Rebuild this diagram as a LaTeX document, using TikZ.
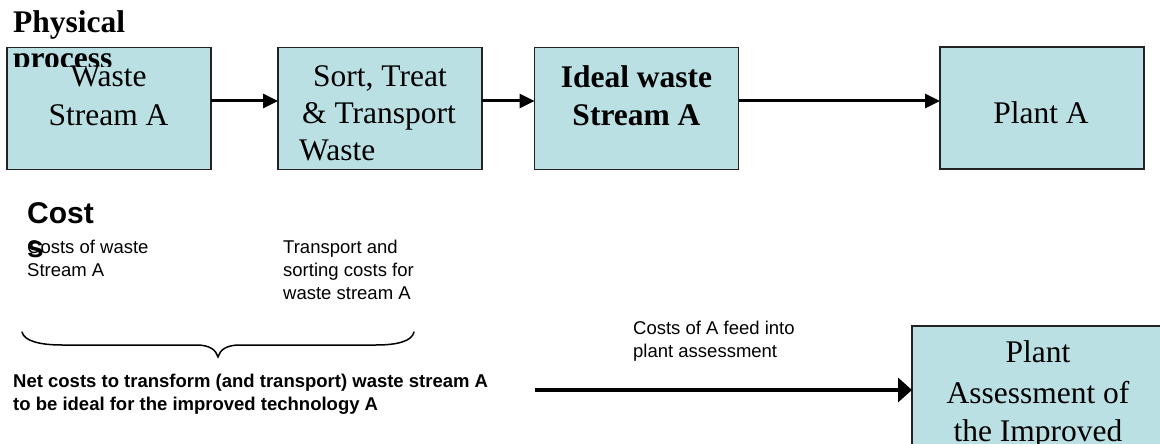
\documentclass[tikz,border=0pt]{standalone}
\usepackage{fontspec}
\setmainfont{Liberation Serif}
\setsansfont{Liberation Sans}
\usetikzlibrary{arrows.meta}
\definecolor{boxfill}{RGB}{186,224,228}
\definecolor{boxline}{RGB}{34,34,34}
\tikzset{
  procbox/.style={draw=boxline, fill=boxfill, line width=1.5pt, inner sep=0pt, outer sep=0pt,
                  minimum width=204pt, minimum height=122pt},
  boxtxt/.style={inner sep=0pt, anchor=base, font=\fontsize{31.5}{38}\selectfont},
  boxbold/.style={boxtxt, font=\fontsize{31.5}{38}\selectfont\bfseries},
  headtxt/.style={inner sep=0pt, anchor=base west, font=\fontsize{31.5}{36}\selectfont\bfseries},
  costhead/.style={inner sep=0pt, anchor=base west, font=\fontsize{30}{34}\selectfont\sffamily\bfseries},
  note/.style={inner sep=0pt, anchor=base west, font=\fontsize{18.5}{23}\selectfont\sffamily},
  notebold/.style={note, font=\fontsize{18.5}{23}\selectfont\sffamily\bfseries},
  flow/.style={line width=3pt, -{Triangle[length=15pt,width=14pt]}},
  feed/.style={line width=4.5pt, -{Triangle[length=14pt,width=24pt]}},
  bracepath/.style={line width=1.5pt, line cap=round}
}
\begin{document}
\begin{tikzpicture}[x=1pt, y=-1pt]
\useasboundingbox (0,0) rectangle (1160,444);
\clip (0,0) rectangle (1160,444);

% process chain boxes
\node[procbox] (b1) at (109,108.5) {};
\node[procbox] (b2) at (380,108.5) {};
\node[procbox] (b3) at (636.5,108.5) {};
\node[procbox] (b4) at (1042,108) {};
\node[procbox, minimum width=258pt, minimum height=150pt] (b5) at (1041,401) {};

% box texts
\node[boxtxt] (b1l1) at (108.5,87) {Waste};
\node[boxtxt] (b1l2) at (108.5,125) {Stream A};
\node[boxtxt, anchor=base west] (b2l1) at (313,87) {Sort, Treat};
\node[boxtxt, anchor=base west] (b2l2) at (302,123) {\& Transport};
\node[boxtxt, anchor=base west] (b2l3) at (299,160) {Waste};
\node[boxbold] (b3l1) at (636.5,88) {Ideal waste};
\node[boxbold] (b3l2) at (636.5,125) {Stream A};
\node[boxtxt] (b4l1) at (1041,123) {Plant A};
\node[boxtxt] (b5l1) at (1038,362) {Plant};
\node[boxtxt] (b5l2) at (1038,403) {Assessment of};
\node[boxtxt] (b5l3) at (1038,441) {the Improved};

% section heading, second line cut off by its frame
\node[headtxt] (ph1) at (13,33) {Physical};
\begin{scope}
  \clip (0,40) rectangle (300,66.5);
  \node[headtxt] (ph2) at (13,69) {process};
\end{scope}

% connectors along the chain
\draw[flow] (b1.east |- 0,101) -- (b2.west |- 0,101);
\draw[flow] (b2.east |- 0,101) -- (b3.west |- 0,101);
\draw[flow] (b3.east |- 0,101) -- (b4.west |- 0,101);

% costs section
\node[costhead] (ch1) at (27,223) {Cost};
\node[costhead] (ch2) at (27,257) {s};
\node[note] (c1l1) at (27,253) {Costs of waste};
\node[note] (c1l2) at (27,276) {Stream A};
\node[note] (c2l1) at (283,253) {Transport and};
\node[note] (c2l2) at (283,276) {sorting costs for};
\node[note] (c2l3) at (283,299) {waste stream A};

% brace under both costs
\draw[bracepath] (22,332) .. controls (24,341) and (40,345) .. (62,345)
  -- (196,345) .. controls (210,345) and (216,350) .. (218,357)
  .. controls (220,350) and (226,345) .. (240,345)
  -- (376,345) .. controls (398,345) and (412,341) .. (414,332);

\node[notebold] (net1) at (13,387) {Net costs to transform (and transport) waste stream A};
\node[notebold] (net2) at (13,410) {to be ideal for the improved technology A};

\node[note] (fd1) at (633,334) {Costs of A feed into};
\node[note] (fd2) at (633,357) {plant assessment};

\coordinate (feedstart) at (535,390);
\draw[feed] (feedstart) -- (b5.west |- feedstart);
\end{tikzpicture}
\end{document}
